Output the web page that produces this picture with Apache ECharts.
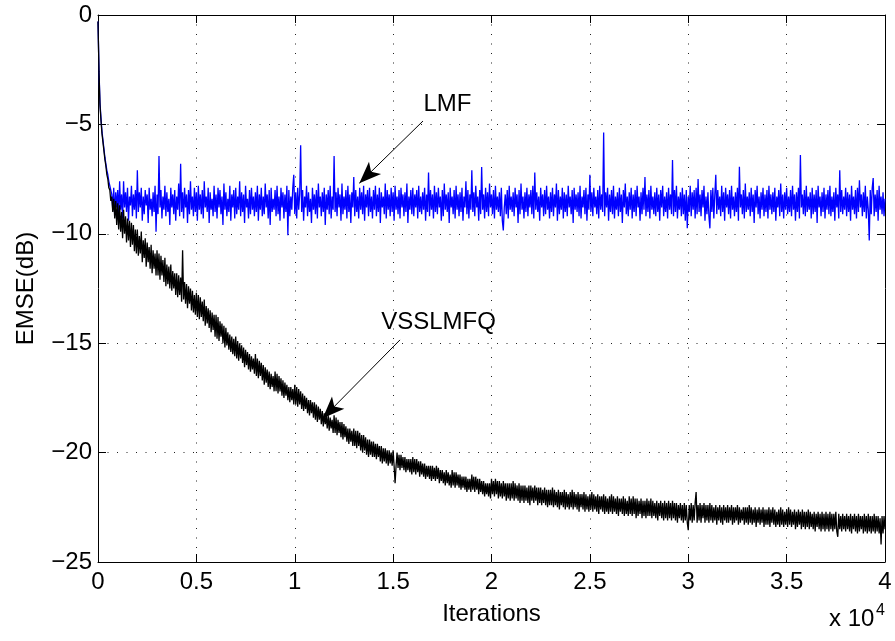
<!DOCTYPE html>
<html><head><meta charset="utf-8">
<script src="https://cdn.jsdelivr.net/npm/echarts@6/dist/echarts.min.js"></script>
<style>html,body{margin:0;padding:0;background:#fff}#c{width:895px;height:641px}</style>
</head><body><div id="c"></div>
<script>
// sample spacing of the plotted curves (iterations)
const iterStep = 50;

// LMF (blue) EMSE in dB, one value every 50 iterations (upper/lower envelope of the noisy trace)
const lmf = [
-0.3,-2.5,-4.0,-4.7,-5.3,-5.7,-6.1,-6.5,-6.8,-7.1,-7.3,-7.6,-7.8,-8.0,-8.2,-8.9,-7.9,-9.2,-8.1,-8.8,
-8.0,-9.1,-7.6,-8.9,-8.2,-9.3,-7.6,-8.8,-8.1,-9.0,-7.9,-9.4,-8.3,-8.7,-7.8,-9.2,-8.2,-8.9,-8.0,-9.3,
-7.1,-9.0,-8.1,-8.8,-7.9,-9.4,-8.3,-9.1,-8.0,-8.7,-8.2,-9.5,-7.9,-8.9,-8.4,-9.2,-8.1,-9.0,-7.8,-9.9,
-8.2,-9.1,-6.45,-8.8,-8.0,-9.3,-8.3,-8.9,-7.8,-9.2,-8.1,-9.0,-8.4,-9.6,-7.9,-8.8,-8.2,-9.1,-8.0,-9.4,
-8.3,-8.9,-7.7,-9.2,-6.8,-9.0,-8.1,-9.3,-7.9,-8.8,-8.2,-9.5,-8.0,-9.1,-7.6,-8.9,-8.3,-9.2,-7.9,-9.0,
-8.1,-9.4,-7.8,-8.9,-8.2,-9.1,-8.0,-9.3,-7.6,-8.8,-8.3,-9.0,-7.9,-9.5,-8.1,-8.9,-8.4,-9.2,-7.8,-9.0,
-8.2,-9.3,-7.9,-8.8,-8.0,-9.1,-8.3,-9.6,-7.7,-8.9,-8.1,-9.2,-8.4,-9.0,-7.8,-9.4,-8.2,-8.8,-8.0,-9.3,
-7.9,-9.1,-8.3,-8.9,-7.6,-9.2,-8.1,-9.0,-8.2,-9.5,-7.8,-8.8,-8.4,-9.3,-8.0,-9.1,-7.9,-8.9,-8.3,-9.2,
-8.1,-9.0,-7.8,-9.4,-8.2,-8.9,-7.9,-9.2,-8.3,-9.1,-7.7,-8.8,-8.2,-9.3,-8.0,-9.6,-7.9,-9.0,-8.4,-8.9,
-8.0,-9.2,-7.8,-9.1,-8.3,-9.4,-7.9,-8.8,-8.1,-9.3,-8.2,-9.0,-7.8,-10.06,-8.0,-9.2,-8.3,-8.9,-7.9,-7.3,
-9.1,-8.1,-9.3,-7.9,-8.9,-8.2,-5.95,-9.0,-8.0,-9.4,-8.3,-8.8,-7.8,-9.2,-8.1,-9.0,-8.4,-9.5,-7.9,-8.9,
-8.2,-9.1,-8.0,-9.3,-7.7,-8.8,-8.3,-9.2,-8.1,-9.0,-7.9,-9.6,-8.2,-8.9,-8.0,-9.1,-7.8,-9.3,-8.3,-8.9,
-6.45,-9.0,-8.1,-9.2,-7.9,-8.8,-8.2,-9.4,-7.7,-9.1,-8.3,-8.9,-8.0,-9.3,-7.8,-9.0,-8.2,-9.5,-8.1,-8.8,
-7.4,-9.2,-8.0,-9.0,-8.3,-9.3,-7.9,-8.9,-8.1,-9.1,-7.8,-9.4,-8.2,-8.8,-8.0,-9.2,-7.9,-9.0,-8.3,-9.3,
-8.0,-8.9,-7.8,-9.2,-8.2,-9.0,-7.9,-9.5,-8.1,-8.8,-8.3,-9.1,-7.7,-9.3,-8.0,-8.9,-8.2,-9.2,-7.9,-9.0,
-8.1,-9.4,-7.8,-8.9,-8.3,-9.1,-8.0,-9.3,-7.9,-8.8,-8.2,-9.2,-8.1,-9.0,-7.7,-9.5,-8.3,-8.9,-8.0,-9.1,
-7.9,-9.2,-8.2,-8.8,-8.0,-9.3,-7.8,-9.0,-8.3,-9.1,-8.1,-8.9,-7.9,-9.4,-8.2,-9.0,-7.2,-9.2,-8.0,-8.9,
-8.2,-9.3,-7.8,-9.0,-8.1,-9.1,-7.9,-8.8,-8.3,-9.4,-8.0,-9.2,-7.7,-8.9,-8.2,-9.0,-8.1,-9.5,-7.9,-8.8,
-8.3,-9.1,-8.0,-9.3,-7.8,-8.9,-8.2,-9.2,-8.1,-9.0,-7.9,-9.4,-8.3,-8.8,-7.6,-9.1,-8.0,-9.3,-8.2,-8.9,
-7.1,-9.0,-8.1,-9.2,-7.8,-8.8,-8.3,-9.4,-8.0,-9.1,-6.95,-8.9,-8.2,-9.3,-7.9,-9.0,-8.1,-9.2,-7.7,-8.8,
-8.2,-9.1,-8.0,-9.3,-7.8,-8.9,-8.3,-9.0,-8.1,-9.2,-7.9,-9.4,-9.85,-8.8,-8.2,-9.1,-8.0,-9.3,-7.8,-8.9,
-8.3,-9.0,-8.1,-9.2,-7.9,-8.8,-8.2,-9.5,-8.0,-9.1,-7.7,-8.9,-8.3,-9.3,-8.1,-9.0,-7.9,-9.2,-8.2,-8.8,
-8.0,-9.1,-7.8,-9.3,-7.2,-8.9,-8.1,-9.0,-8.3,-9.4,-7.9,-8.8,-8.2,-9.2,-8.0,-9.1,-7.8,-8.9,-8.3,-9.3,
-8.1,-9.0,-7.9,-9.2,-8.2,-8.8,-7.7,-9.4,-8.0,-9.1,-8.3,-8.9,-7.9,-9.3,-8.1,-9.0,-8.2,-9.2,-7.8,-8.8,
-8.3,-9.1,-8.0,-9.5,-7.9,-8.9,-8.2,-9.0,-8.1,-9.2,-7.8,-9.3,-8.3,-8.8,-8.0,-9.1,-7.9,-9.4,-8.2,-8.9,
-7.3,-9.0,-8.1,-9.2,-7.9,-8.8,-8.3,-9.1,-8.0,-9.3,-7.8,-8.9,-8.2,-9.0,-5.37,-9.2,-8.1,-8.8,-7.9,-9.4,
-8.2,-9.0,-8.0,-9.1,-7.8,-9.3,-8.3,-8.9,-8.1,-9.2,-7.9,-9.0,-8.2,-9.5,-8.0,-8.8,-7.7,-9.1,-8.3,-9.2,
-8.1,-8.9,-7.9,-9.3,-8.2,-9.0,-8.0,-9.2,-7.8,-8.8,-8.3,-9.4,-8.1,-9.1,-7.9,-8.9,-7.4,-9.2,-8.2,-9.0,
-8.0,-9.3,-7.8,-8.9,-8.3,-9.1,-8.1,-9.2,-7.9,-9.0,-8.2,-9.4,-8.0,-8.8,-7.8,-9.2,-8.3,-9.0,-8.1,-9.3,
-7.9,-8.9,-8.2,-9.1,-6.63,-9.2,-8.0,-9.0,-7.8,-9.3,-8.3,-8.9,-8.1,-9.2,-7.9,-9.1,-8.2,-9.4,-8.0,-9.75,
-8.3,-9.0,-7.8,-9.2,-8.1,-8.9,-8.0,-9.3,-7.9,-9.1,-7.5,-9.0,-8.2,-9.2,-8.0,-8.8,-7.8,-9.4,-8.3,-9.1,
-8.1,-9.2,-9.75,-8.0,-9.0,-7.9,-9.3,-8.2,-7.3,-9.1,-8.0,-8.9,-8.3,-9.2,-7.8,-9.0,-8.1,-9.4,-7.9,-8.8,
-8.2,-9.1,-8.0,-9.3,-7.8,-8.9,-8.3,-9.2,-8.1,-9.0,-7.9,-9.4,-6.94,-8.8,-8.2,-9.1,-8.0,-9.3,-7.7,-9.0,
-8.3,-8.9,-8.1,-9.2,-7.9,-9.0,-8.2,-9.5,-8.0,-8.8,-7.8,-9.1,-8.3,-9.3,-8.1,-8.9,-7.9,-9.2,-8.2,-9.0,
-8.0,-9.3,-7.8,-8.9,-8.2,-9.1,-8.1,-9.0,-7.9,-9.4,-8.3,-8.8,-8.0,-9.2,-7.7,-9.0,-8.2,-9.3,-8.1,-8.9,
-7.9,-9.1,-8.3,-9.0,-8.0,-9.2,-7.8,-8.9,-8.2,-9.4,-8.1,-9.0,-7.9,-9.3,-6.4,-8.8,-8.2,-9.1,-8.0,-9.2,
-7.8,-9.0,-8.3,-8.9,-8.1,-9.3,-7.9,-9.1,-8.2,-9.0,-8.0,-9.5,-7.8,-8.8,-8.3,-9.2,-8.1,-9.0,-7.9,-9.3,
-8.2,-8.9,-8.0,-9.1,-7.8,-9.2,-8.3,-9.0,-8.1,-9.4,-7.9,-8.8,-8.2,-9.3,-7.1,-9.0,-8.0,-9.1,-8.3,-8.9,
-7.9,-9.2,-8.1,-9.0,-8.2,-9.4,-7.8,-8.9,-8.3,-9.1,-8.0,-9.3,-7.9,-9.0,-7.55,-8.8,-8.2,-9.2,-8.1,-9.0,
-7.8,-9.3,-8.3,-8.9,-10.3,-8.0,-9.1,-7.9,-7.45,-9.2,-8.2,-9.0,-8.0,-9.4,-7.8,-8.9,-8.3,-9.1,-8.1,-9.2,
-8.4
];

// VSSLMFQ (black) EMSE in dB, one value every 50 iterations (upper/lower envelope of the noisy trace)
const vsslmfq = [
-0.3,-2.6,-4.1,-4.8,-5.4,-5.8,-6.2,-6.6,-6.9,-7.3,-7.5,-7.9,-8.0,-8.5,-8.3,-9.0,-8.4,-9.3,-8.5,-9.6,
-8.6,-9.8,-8.7,-9.9,-9.0,-10.2,-8.9,-10.0,-9.2,-10.4,-9.3,-10.3,-9.4,-10.6,-9.5,-10.5,-9.6,-10.8,-9.8,-10.9,
-9.8,-11.0,-10.1,-10.9,-9.9,-11.3,-10.3,-11.1,-10.2,-11.5,-10.4,-11.3,-10.6,-11.6,-10.5,-11.8,-10.75,-11.6,-10.9,-11.9,
-10.75,-11.9,-10.9,-12.1,-11.0,-11.9,-11.2,-12.2,-11.1,-12.4,-11.4,-12.3,-11.5,-12.5,-11.4,-12.6,-11.7,-12.5,-11.8,-12.8,
-11.8,-12.9,-11.9,-12.8,-12.0,-13.1,-10.75,-13.0,-12.2,-13.2,-12.3,-13.4,-12.4,-13.2,-12.5,-13.5,-12.6,-13.6,-12.8,-13.7,
-12.7,-13.8,-12.8,-13.9,-12.9,-13.8,-13.1,-14.0,-13.0,-14.2,-13.3,-14.1,-13.4,-14.3,-13.5,-14.5,-13.6,-14.4,-13.7,-14.7,
-13.7,-14.8,-13.8,-14.9,-14.0,-14.7,-14.1,-15.0,-14.2,-15.2,-14.3,-15.1,-14.5,-15.3,-14.6,-15.4,-14.7,-15.5,-14.8,-15.6,
-14.7,-15.7,-14.9,-15.8,-15.0,-15.7,-15.1,-15.9,-15.2,-16.1,-15.3,-16.0,-15.4,-16.2,-15.5,-16.3,-15.6,-16.2,-15.7,-16.4,
-15.5,-16.5,-15.7,-16.6,-15.8,-16.5,-15.9,-16.7,-16.0,-16.9,-16.1,-16.8,-16.2,-17.0,-16.3,-17.1,-16.4,-17.0,-16.5,-17.2,
-16.3,-17.2,-16.4,-17.3,-16.5,-17.2,-16.6,-17.4,-16.7,-17.5,-16.8,-17.4,-16.9,-17.6,-17.0,-17.7,-17.0,-17.6,-17.1,-17.8,
-16.9,-17.8,-17.0,-17.9,-17.1,-17.8,-17.2,-18.0,-17.3,-18.1,-17.4,-18.0,-17.5,-18.2,-17.6,-18.3,-17.6,-18.2,-17.7,-18.4,
-17.7,-18.5,-17.8,-18.6,-17.9,-18.5,-18.0,-18.7,-18.1,-18.8,-18.2,-18.7,-18.3,-18.9,-18.3,-19.0,-18.4,-18.9,-18.5,-19.1,
-18.3,-19.1,-18.4,-19.2,-18.5,-19.1,-18.6,-19.3,-18.6,-19.4,-18.7,-19.3,-18.8,-19.5,-18.9,-19.6,-18.9,-19.5,-19.0,-19.7,
-18.9,-19.7,-19.0,-19.8,-19.0,-19.7,-19.1,-19.9,-19.2,-20.0,-19.2,-19.9,-19.3,-20.1,-19.4,-20.2,-19.4,-20.1,-19.5,-20.2,
-19.5,-20.2,-19.6,-20.3,-19.6,-20.2,-19.7,-20.4,-19.7,-20.5,-19.8,-20.4,-19.8,-20.5,-19.9,-20.6,-19.9,-20.5,-20.0,-20.6,
-19.9,-20.6,-21.4,-20.6,-20.0,-20.7,-20.1,-20.8,-20.1,-20.7,-20.2,-20.8,-20.2,-20.9,-20.3,-20.8,-20.3,-20.9,-20.3,-21.0,
-20.2,-20.9,-20.3,-21.0,-20.3,-20.9,-20.4,-21.1,-20.4,-21.0,-20.5,-21.1,-20.5,-21.2,-20.6,-21.1,-20.6,-21.2,-20.6,-21.3,
-20.6,-21.2,-20.7,-21.3,-20.6,-21.2,-20.7,-21.4,-20.8,-21.3,-20.8,-21.4,-20.9,-21.5,-20.8,-21.4,-20.9,-21.5,-21.0,-21.6,
-20.8,-21.5,-20.9,-21.6,-20.9,-21.5,-21.0,-21.6,-21.0,-21.7,-21.1,-21.6,-21.1,-21.7,-21.1,-21.8,-21.2,-21.7,-21.2,-21.8,
-21.0,-21.7,-21.1,-21.8,-21.1,-21.7,-21.2,-21.9,-21.2,-21.8,-21.3,-21.9,-21.3,-22.0,-21.4,-21.9,-21.4,-22.0,-21.4,-22.1,
-21.2,-21.9,-21.3,-22.0,-21.2,-21.9,-21.3,-22.1,-21.3,-22.0,-21.4,-22.1,-21.3,-22.0,-21.4,-22.2,-21.4,-22.1,-21.4,-22.2,
-21.4,-22.1,-21.3,-22.2,-21.4,-22.1,-21.5,-22.2,-21.4,-22.3,-21.5,-22.2,-21.5,-22.3,-21.5,-22.2,-21.6,-22.3,-21.5,-22.4,
-21.5,-22.2,-21.6,-22.3,-21.5,-22.2,-21.6,-22.4,-21.6,-22.3,-21.6,-22.4,-21.7,-22.3,-21.6,-22.4,-21.7,-22.5,-21.7,-22.4,
-21.7,-22.4,-21.6,-22.5,-21.7,-22.4,-21.8,-22.5,-21.7,-22.6,-21.8,-22.4,-21.8,-22.5,-21.7,-22.6,-21.8,-22.5,-21.9,-22.6,
-21.8,-22.5,-21.7,-22.6,-21.8,-22.5,-21.9,-22.6,-21.8,-22.7,-21.9,-22.5,-21.9,-22.6,-21.8,-22.7,-21.9,-22.6,-22.0,-22.7,
-21.9,-22.6,-21.8,-22.7,-21.9,-22.6,-22.0,-22.7,-21.9,-22.8,-22.0,-22.6,-22.0,-22.7,-21.9,-22.8,-22.0,-22.7,-22.1,-22.8,
-22.0,-22.7,-21.9,-22.8,-22.0,-22.7,-22.1,-22.8,-22.0,-22.9,-22.1,-22.7,-22.1,-22.8,-22.0,-22.9,-22.1,-22.8,-22.2,-22.9,
-22.0,-22.8,-22.1,-22.9,-22.0,-22.8,-22.1,-23.0,-22.1,-22.9,-22.2,-22.8,-22.1,-23.0,-22.2,-22.9,-22.2,-23.0,-22.1,-22.9,
-22.2,-22.9,-22.1,-23.0,-22.2,-22.9,-22.3,-23.0,-22.2,-23.1,-22.3,-22.9,-22.2,-23.0,-22.3,-23.1,-22.2,-23.0,-22.3,-23.1,
-22.2,-23.0,-22.3,-23.1,-22.2,-23.0,-22.3,-23.1,-22.3,-23.2,-22.4,-23.0,-22.3,-23.1,-22.4,-23.2,-22.3,-23.1,-22.4,-23.2,
-23.55,-22.4,-23.1,-22.3,-23.2,-22.4,-23.1,-22.3,-21.8,-23.2,-22.4,-23.1,-22.3,-23.2,-22.4,-23.0,-22.3,-23.2,-22.4,-23.1,
-22.4,-23.2,-22.3,-23.1,-22.4,-23.2,-22.5,-23.1,-22.4,-23.3,-22.5,-23.1,-22.4,-23.2,-22.5,-23.3,-22.4,-23.1,-22.5,-23.2,
-22.4,-23.2,-22.5,-23.1,-22.4,-23.3,-22.5,-23.2,-22.5,-23.1,-22.4,-23.3,-22.5,-23.2,-22.6,-23.1,-22.5,-23.3,-22.5,-23.2,
-22.5,-23.3,-22.4,-23.2,-22.5,-23.3,-22.6,-23.2,-22.5,-23.4,-22.6,-23.2,-22.5,-23.3,-22.6,-23.2,-22.5,-23.4,-22.6,-23.3,
-22.6,-23.3,-22.5,-23.4,-22.6,-23.2,-22.5,-23.3,-22.6,-23.4,-22.7,-23.3,-22.6,-23.4,-22.5,-23.3,-22.6,-23.4,-22.7,-23.3,
-22.6,-23.4,-22.5,-23.3,-22.6,-23.4,-22.7,-23.3,-22.6,-23.5,-22.7,-23.4,-22.6,-23.3,-22.7,-23.5,-22.6,-23.4,-22.7,-23.5,
-22.7,-23.4,-22.6,-23.5,-22.7,-23.4,-22.8,-23.5,-22.7,-23.6,-22.8,-23.4,-22.7,-23.5,-22.8,-23.6,-22.7,-23.5,-22.8,-23.6,
-22.7,-23.5,-22.8,-23.6,-22.7,-23.5,-22.8,-23.6,-22.8,-23.5,-22.7,-23.6,-23.85,-22.8,-23.5,-22.9,-23.6,-22.8,-23.5,-22.9,
-23.6,-22.8,-23.5,-22.9,-23.6,-22.8,-23.7,-22.9,-23.5,-22.8,-23.6,-22.9,-23.7,-22.8,-23.6,-22.9,-23.5,-22.9,-23.7,-22.8,
-23.6,-22.9,-23.7,-22.8,-23.6,-22.9,-23.7,-22.9,-23.6,-22.8,-23.7,-22.9,-23.6,-22.9,-23.7,-23.0,-24.2,-22.9,-23.7,-22.9,
-23.5
];

// axes
const xMin = 0, xMax = 40000, xInterval = 5000, xScale = 10000;
const yMin = -25, yMax = 0, yInterval = 5;

// annotations (data coordinates: iterations, dB)
const annotationTexts = ['LMF', 'VSSLMFQ'];
const annotationTextPos = [[17764, -4.09], [17306, -14.03]];
const arrowFrom = [[16518, -4.845], [15349, -14.85]];
const arrowTo = [[13281, -7.69], [11421, -18.43]];

const FONT = 'Liberation Sans, Arial, Helvetica, sans-serif';
const minus = v => (v < 0 ? '\u2212' + Math.abs(v) : String(v));

const chart = echarts.init(document.getElementById('c'), null, {renderer: 'canvas'});

const axisLineStyle = {show: true, onZero: false, lineStyle: {color: '#000', width: 1}};
const tickStyle = {show: true, inside: true, length: 8, lineStyle: {color: '#000', width: 1}};
const gridLine = {show: true, lineStyle: {color: '#222', width: 1, type: [1, 8.5]}};

chart.setOption({
  animation: false,
  backgroundColor: '#fff',
  grid: {left: 98, right: 10, top: 15, bottom: 79},
  xAxis: [{
    type: 'value', position: 'bottom', min: xMin, max: xMax, interval: xInterval,
    axisLine: axisLineStyle, axisTick: tickStyle, splitLine: gridLine,
    axisLabel: {formatter: v => String(v / xScale), color: '#000', fontSize: 24, fontFamily: FONT, margin: 8},
    name: 'Iterations', nameLocation: 'middle', nameGap: 40,
    nameTextStyle: {color: '#000', fontSize: 24, fontFamily: FONT}
  }, {
    type: 'value', position: 'top', min: xMin, max: xMax, interval: xInterval,
    axisLine: axisLineStyle, axisTick: tickStyle, splitLine: {show: false}, axisLabel: {show: false}
  }],
  yAxis: [{
    type: 'value', position: 'left', min: yMin, max: yMax, interval: yInterval,
    axisLine: axisLineStyle, axisTick: tickStyle, splitLine: gridLine,
    axisLabel: {formatter: minus, color: '#000', fontSize: 24, fontFamily: FONT, margin: 6},
    name: 'EMSE(dB)', nameLocation: 'middle', nameGap: 60,
    nameTextStyle: {color: '#000', fontSize: 24, fontFamily: FONT}
  }, {
    type: 'value', position: 'right', min: yMin, max: yMax, interval: yInterval,
    axisLine: axisLineStyle, axisTick: tickStyle, splitLine: {show: false}, axisLabel: {show: false}
  }],
  graphic: [
    {id: 'xexp', type: 'text', left: 829, top: 607, style: {text: 'x 10', fontSize: 24, fontFamily: FONT, fill: '#000'}},
    {id: 'xsup', type: 'text', left: 876, top: 603, style: {text: '4', fontSize: 16, fontFamily: FONT, fill: '#000'}}
  ],
  series: [{
    name: 'LMF', type: 'line', showSymbol: false, symbol: 'none', sampling: null,
    lineStyle: {color: '#0000ff', width: 1.3}, itemStyle: {color: '#0000ff'},
    data: lmf.map((v, i) => [i * iterStep, v]), z: 2
  }, {
    name: 'VSSLMFQ', type: 'line', showSymbol: false, symbol: 'none',
    lineStyle: {color: '#000', width: 1.3}, itemStyle: {color: '#000'},
    data: vsslmfq.map((v, i) => [i * iterStep, v]), z: 3,
    markLine: {
      silent: true, animation: false,
      symbol: ['none', 'arrow'], symbolSize: [13, 22],
      lineStyle: {color: '#000', width: 1, type: 'solid'},
      label: {show: false},
      data: arrowFrom.map((p, i) => [{coord: p}, {coord: arrowTo[i]}])
    }
  }]
});

// annotation texts, placed at their data coordinates through the grid's scales
chart.setOption({
  graphic: annotationTexts.map((t, i) => {
    const p = chart.convertToPixel({gridIndex: 0}, annotationTextPos[i]);
    return {id: 'ann' + i, type: 'text', x: p[0], y: p[1], z: 10,
      style: {text: t, fontSize: 24, fontFamily: FONT, fill: '#000', align: 'center', verticalAlign: 'middle'}};
  })
});
</script>
</body></html>
